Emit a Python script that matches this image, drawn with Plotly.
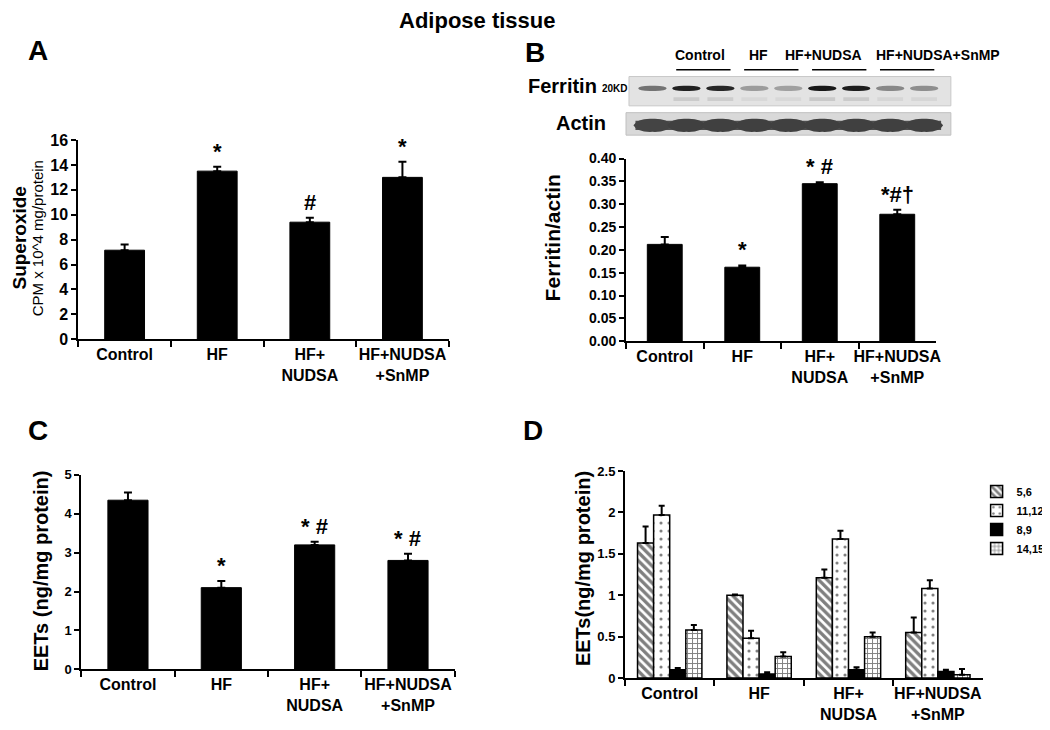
import plotly.graph_objects as go

FONT = "Liberation Sans, Arial, sans-serif"
# the page body adds an 8px margin; the figure is sized so that it fills the 1050x730 window
OFF = 8
W, H = 1050 - OFF, 730 - OFF

# ---------------- data ----------------
categories = ["Control", "HF", "HF+<br>NUDSA", "HF+NUDSA<br>+SnMP"]

superoxide = [7.15, 13.5, 9.4, 13.0]
superoxide_err = [0.45, 0.35, 0.35, 1.25]
superoxide_marks = ["", "*", "#", "*"]

ferritin_actin = [0.212, 0.162, 0.345, 0.278]
ferritin_actin_err = [0.016, 0.004, 0.003, 0.010]
ferritin_marks = ["", "*", "* #", "*#\u2020"]

eets_total = [4.35, 2.10, 3.20, 2.80]
eets_total_err = [0.20, 0.17, 0.08, 0.17]
eets_marks = ["", "*", "* #", "* #"]

eet_isomers = ["5,6", "11,12", "8,9", "14,15"]
eet_56 = [1.63, 1.00, 1.21, 0.55]
eet_56_err = [0.20, 0.01, 0.10, 0.18]
eet_1112 = [1.97, 0.48, 1.68, 1.08]
eet_1112_err = [0.11, 0.09, 0.10, 0.10]
eet_89 = [0.10, 0.05, 0.10, 0.08]
eet_89_err = [0.02, 0.02, 0.03, 0.02]
eet_1415 = [0.58, 0.26, 0.50, 0.04]
eet_1415_err = [0.06, 0.05, 0.05, 0.07]

blot_groups = ["Control", "HF", "HF+NUDSA", "HF+NUDSA+SnMP"]
blot_lanes = [0, 1, 2, 3, 4, 5, 6, 7, 8]
ferritin_band = [0.55, 0.95, 0.92, 0.35, 0.33, 1.0, 0.97, 0.45, 0.42]
ferritin_lower_band = [0.0, 0.12, 0.11, 0.06, 0.06, 0.13, 0.12, 0.07, 0.07]
actin_band = [0.78, 0.80, 0.80, 0.80, 0.80, 0.80, 0.80, 0.80, 0.80]


def px(x):
    return (x - OFF) / W


def py(y):
    return 1 - (y - OFF) / H


def gray(intensity):
    v = int(round(228 - 205 * intensity))
    return f"rgb({v},{v},{v})"


fig = go.Figure()

NOMINUS = [0, 0, 0, 0]


def single_bar(x, y, err, xa, ya, width, capw):
    fig.add_trace(go.Bar(
        x=x, y=y, width=width, xaxis=xa, yaxis=ya, showlegend=False,
        marker=dict(color="black", line=dict(color="black", width=1)),
        error_y=dict(type="data", array=err, arrayminus=NOMINUS, symmetric=False,
                     color="black", thickness=2, width=capw),
    ))


single_bar(categories, superoxide, superoxide_err, "x", "y", 0.43, 4)
single_bar(categories, ferritin_actin, ferritin_actin_err, "x2", "y2", 0.45, 4)
single_bar(categories, eets_total, eets_total_err, "x3", "y3", 0.43, 4)

patterns = [
    dict(color="white", pattern=dict(shape="\\", fgcolor="black", bgcolor="white", size=6, solidity=0.55)),
    dict(color="white", pattern=dict(shape=".", fgcolor="black", bgcolor="white", size=8, solidity=0.12)),
    dict(color="black"),
    dict(color="white", pattern=dict(shape="+", fgcolor="black", bgcolor="white", size=5, solidity=0.35)),
]
for name, vals, errs, mk in zip(eet_isomers, [eet_56, eet_1112, eet_89, eet_1415],
                                [eet_56_err, eet_1112_err, eet_89_err, eet_1415_err], patterns):
    m = dict(mk)
    m["line"] = dict(color="black", width=1.5)
    fig.add_trace(go.Bar(
        x=categories, y=vals, name=name, xaxis="x4", yaxis="y4", marker=m,
        error_y=dict(type="data", array=errs, arrayminus=NOMINUS, symmetric=False,
                     color="black", thickness=2, width=3),
    ))

# invisible anchor trace for the blot axes
fig.add_trace(go.Scatter(x=blot_lanes, y=ferritin_band, xaxis="x5", yaxis="y5", mode="markers",
                         marker=dict(opacity=0), showlegend=False, hoverinfo="skip"))

shapes = []
annotations = []

# blot boxes
shapes.append(dict(type="rect", xref="paper", yref="paper", x0=px(635), x1=px(960), y0=py(100), y1=py(70),
                   fillcolor="#e3e3e3", line=dict(color="#c8c8c8", width=1), layer="below"))
shapes.append(dict(type="rect", xref="paper", yref="paper", x0=px(632), x1=px(960), y0=py(130), y1=py(107),
                   fillcolor="#d9d9d9", line=dict(color="#c0c0c0", width=1), layer="below"))
# continuous actin smear beneath the lane bands
shapes.append(dict(type="rect", xref="x5", yref="y5", x0=blot_lanes[0] - 0.5, x1=blot_lanes[-1] + 0.5,
                   y0=0.11, y1=0.25, fillcolor=gray(actin_band[0] - 0.05), line=dict(width=0)))
for lane, fi, li, ai in zip(blot_lanes, ferritin_band, ferritin_lower_band, actin_band):
    shapes.append(dict(type="path", xref="x5", yref="y5",
                       path=(f"M {lane - 0.42},0.745 Q {lane - 0.40},0.79 {lane},0.785 "
                             f"Q {lane + 0.40},0.79 {lane + 0.42},0.745 "
                             f"Q {lane + 0.40},0.70 {lane},0.705 Q {lane - 0.40},0.70 {lane - 0.42},0.745 Z"),
                       fillcolor=gray(fi), line=dict(width=0)))
    if li > 0:
        shapes.append(dict(type="rect", xref="x5", yref="y5", x0=lane - 0.38, x1=lane + 0.38,
                           y0=0.55, y1=0.61, fillcolor=gray(li), line=dict(width=0)))
    shapes.append(dict(type="path", xref="x5", yref="y5",
                       path=(f"M {lane - 0.56},0.18 Q {lane - 0.45},0.29 {lane},0.28 "
                             f"Q {lane + 0.45},0.29 {lane + 0.56},0.18 "
                             f"Q {lane + 0.45},0.07 {lane},0.08 Q {lane - 0.45},0.07 {lane - 0.56},0.18 Z"),
                       fillcolor=gray(ai), line=dict(width=0)))
# group underlines
for g in range(4):
    shapes.append(dict(type="line", xref="x5", yref="paper", x0=2 * g + 0.7, x1=2 * g + 2.3,
                       y0=py(63), y1=py(63), line=dict(color="black", width=1.5)))

head_x = [707, 766, 831, 947]
for lbl, hx in zip(blot_groups, head_x):
    annotations.append(dict(text=lbl, x=px(hx), y=py(48), xref="paper", yref="paper", showarrow=False,
                            xanchor="center", yanchor="middle",
                            font=dict(size=14, family=FONT, color="black", weight="bold")))


def txt(text, x, y, size, bold=True, angle=0):
    annotations.append(dict(text=text, x=px(x), y=py(y), xref="paper", yref="paper", showarrow=False,
                            textangle=angle, xanchor="center", yanchor="middle",
                            font=dict(size=size, family=FONT, color="black",
                                      weight="bold" if bold else "normal")))


txt("Adipose tissue", 482, 13, 22)
txt("A", 38, 43, 28)
txt("B", 540, 45, 28)
txt("C", 38, 433, 28)
txt("D", 538, 433, 28)
txt("Ferritin", 568, 80, 20)
txt("20KD", 621, 82, 10)
txt("Actin", 587, 118, 20)
txt("Superoxide", 20, 235, 19, angle=-90)
txt("CPM x 10^4 mg/protein", 38, 236, 15, bold=False, angle=-90)
txt("Ferritin/actin", 558, 235, 21, angle=-90)
txt("EETs (ng/mg protein)", 41, 576, 20, angle=-90)
txt("EETs(ng/mg protein)", 588, 574, 20, angle=-90)


def marks(vals, errs, labels, xa, ya):
    for c, v, e, t in zip(categories, vals, errs, labels):
        if t:
            annotations.append(dict(text=t, x=c, y=v + e, xref=xa, yref=ya, showarrow=False,
                                    yanchor="bottom", yshift=1,
                                    font=dict(size=22, family=FONT, color="black", weight="bold")))


marks(superoxide, superoxide_err, superoxide_marks, "x", "y")
marks(ferritin_actin, ferritin_actin_err, ferritin_marks, "x2", "y2")
marks(eets_total, eets_total_err, eets_marks, "x3", "y3")

axis_common = dict(showline=True, linecolor="black", linewidth=2, ticks="outside", tickcolor="black",
                   tickwidth=2, showgrid=False, zeroline=False)
xcat = dict(axis_common, type="category", tickson="boundaries", ticklen=6, range=[-0.5, 3.5],
            tickangle=0, tickfont=dict(size=16, family=FONT, color="black", weight="bold"))

fig.update_layout(
    width=W, height=H, margin=dict(l=0, r=0, t=0, b=0),
    paper_bgcolor="white", plot_bgcolor="white",
    barmode="group", bargap=0.28, bargroupgap=0,
    font=dict(family=FONT, color="black"),
    xaxis=dict(xcat, domain=[px(79), px(453)], anchor="y"),
    yaxis=dict(axis_common, domain=[py(339), py(135)], range=[0, 16], dtick=2, ticklen=5, anchor="x",
               tickfont=dict(size=16, family=FONT, color="black", weight="bold")),
    xaxis2=dict(xcat, domain=[px(632), px(945)], anchor="y2"),
    yaxis2=dict(axis_common, domain=[py(341), py(154)], range=[0, 0.40], dtick=0.05, tickformat=".2f",
                ticklen=5, anchor="x2", tickfont=dict(size=14, family=FONT, color="black", weight="bold")),
    xaxis3=dict(xcat, domain=[px(82), px(459)], anchor="y3"),
    yaxis3=dict(axis_common, domain=[py(677), py(478)], range=[0, 5], dtick=1, ticklen=5, anchor="x3",
                tickfont=dict(size=13, family=FONT, color="black", weight="bold")),
    xaxis4=dict(xcat, domain=[px(631), px(992)], anchor="y4"),
    yaxis4=dict(axis_common, domain=[py(686), py(474)], range=[0, 2.5], dtick=0.5, ticklen=5, anchor="x4",
                tickfont=dict(size=13, family=FONT, color="black", weight="bold")),
    xaxis5=dict(domain=[px(632), px(960)], range=[-0.778, 8.787], visible=False, anchor="y5"),
    yaxis5=dict(domain=[py(132), py(65)], range=[0, 1], visible=False, anchor="x5"),
    legend=dict(x=px(986), y=py(480), xanchor="left", yanchor="top", bgcolor="rgba(0,0,0,0)",
                font=dict(size=11, family=FONT, color="black", weight="bold"),
                itemwidth=30, tracegroupgap=0),
    shapes=shapes, annotations=annotations,
)

fig.write_html("out.html")
